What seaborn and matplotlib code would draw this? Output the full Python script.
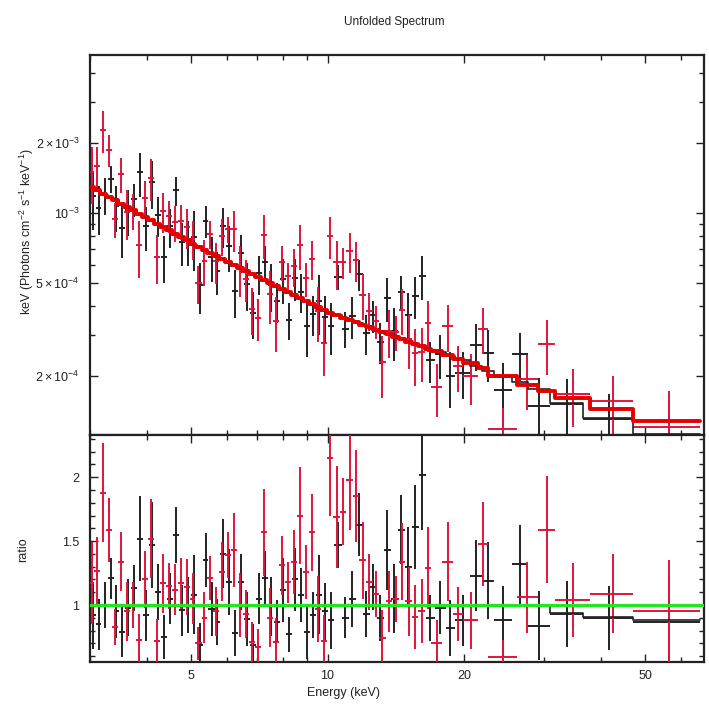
import numpy as np
import pandas as pd
import matplotlib
matplotlib.use("Agg")
import matplotlib.pyplot as plt
import matplotlib.ticker as mticker
import seaborn as sns

# ---- FPMA (black): bin edges [keV], data/model ratio, 1-sigma ratio error, unfolded model flux
edges_a = [3.00, 3.09, 3.18, 3.28, 3.38, 3.48, 3.59, 3.70, 3.81, 3.93,
           4.05, 4.17, 4.30, 4.43, 4.56, 4.70, 4.85, 5.00, 5.15, 5.31,
           5.47, 5.64, 5.81, 5.99, 6.17, 6.36, 6.55, 6.75, 6.96, 7.17,
           7.39, 7.62, 7.85, 8.09, 8.34, 8.60, 8.86, 9.13, 9.41, 9.70,
           10.00, 10.36, 10.74, 11.13, 11.53, 11.95, 12.38, 12.83, 13.29, 13.77,
           14.27, 14.79, 15.32, 15.88, 16.45, 17.20, 18.2, 19.1, 20.6, 21.9,
           23.2, 25.5, 27.6, 30.9, 36.5, 47.0, 66.0]
ratio_a = [0.92, 0.85, 1.00, 1.21, 0.95, 0.79, 0.98, 1.13, 1.52, 0.92,
           1.47, 1.10, 0.75, 1.05, 1.55, 0.96, 1.00, 1.08, 0.69, 1.35,
           0.97, 0.87, 1.40, 1.18, 0.78, 1.18, 0.89, 0.69, 1.05, 1.21,
           0.99, 0.87, 1.12, 0.77, 1.20, 1.08, 0.79, 0.92, 1.08, 0.95,
           0.88, 1.47, 0.90, 1.05, 1.63, 0.93, 1.14, 0.90, 1.43, 1.05,
           1.59, 1.30, 1.61, 2.02, 0.90,
           0.98, 0.82, 0.88, 1.23, 1.19, 0.88, 1.32, 0.84, 0.93, 0.90, 0.87]
err_a = [0.26, 0.20, 0.18, 0.16, 0.21, 0.20, 0.22, 0.18, 0.33, 0.20,
         0.34, 0.22, 0.17, 0.20, 0.22, 0.20, 0.22, 0.31, 0.17, 0.21,
         0.21, 0.18, 0.27, 0.26, 0.18, 0.22, 0.21, 0.16, 0.20, 0.21,
         0.23, 0.17, 0.25, 0.14, 0.25, 0.21, 0.21, 0.18, 0.31, 0.22,
         0.22, 0.18, 0.16, 0.22, 0.25, 0.18, 0.18, 0.18, 0.31, 0.27,
         0.27, 0.31, 0.33, 0.43, 0.18,
         0.21, 0.22, 0.20, 0.28, 0.30, 0.27, 0.31, 0.27, 0.26, 0.25, 0.35]
model_a_e3 = [1.284, 1.243, 1.202, 1.163, 1.126, 1.089, 1.054, 1.019, 0.986, 0.954,
              0.923, 0.894, 0.864, 0.836, 0.809, 0.783, 0.758, 0.733, 0.709, 0.687,
              0.667, 0.647, 0.628, 0.610, 0.592, 0.574, 0.557, 0.541, 0.525, 0.510,
              0.494, 0.480, 0.466, 0.452, 0.439, 0.426, 0.413, 0.401, 0.389, 0.378,
              0.372, 0.363, 0.354, 0.345, 0.336, 0.327, 0.319, 0.311, 0.303, 0.295,
              0.288, 0.281, 0.274, 0.267, 0.259,
              0.252, 0.243, 0.233, 0.220, 0.210, 0.198, 0.187, 0.176, 0.162, 0.145, 0.127]
# FPMA model relative to the reference model (ratio panel step line)
mline_a = [1.0] * 63 + [0.94, 0.91, 0.88]

# ---- FPMB (red)
edges_b = [3.00, 3.06, 3.15, 3.25, 3.35, 3.45, 3.56, 3.67, 3.78, 3.90,
           4.02, 4.14, 4.27, 4.40, 4.54, 4.68, 4.82, 4.97, 5.12, 5.28,
           5.44, 5.61, 5.78, 5.96, 6.14, 6.33, 6.52, 6.72, 6.93, 7.14,
           7.36, 7.59, 7.82, 8.06, 8.31, 8.57, 8.83, 9.10, 9.38, 9.67,
           9.97, 10.30, 10.65, 11.01, 11.38, 11.76, 12.16, 12.57, 12.99, 13.43,
           13.88, 14.35, 14.83, 15.33, 15.85, 16.38, 16.93, 17.9, 18.9, 19.9,
           21.4, 22.5, 26.1, 29.0, 31.7, 37.8, 47.0, 66.0]
ratio_b = [1.17, 1.27, 1.88, 1.59, 0.83, 1.34, 0.95, 1.00, 0.73, 1.20,
           1.52, 0.72, 1.17, 1.15, 1.12, 1.17, 1.14, 1.05, 0.70, 0.90,
           1.21, 0.95, 1.26, 1.39, 1.43, 1.00, 0.93, 0.71, 0.67, 1.57,
           0.90, 0.71, 1.31, 1.18, 1.34, 1.70, 1.26, 1.57, 0.97, 0.72,
           2.15, 1.69, 1.73, 1.98, 1.85, 1.35, 1.18, 1.09, 0.74, 1.03,
           1.05, 1.34, 1.03, 0.91, 0.95, 1.29,
           0.70, 1.34, 0.93, 0.88, 1.48, 0.59, 1.06, 1.59, 1.04, 1.09, 0.95]
err_b = [0.32, 0.26, 0.39, 0.25, 0.14, 0.23, 0.23, 0.18, 0.20, 0.22,
         0.31, 0.17, 0.23, 0.18, 0.20, 0.20, 0.22, 0.20, 0.13, 0.20,
         0.17, 0.19, 0.23, 0.18, 0.29, 0.25, 0.19, 0.16, 0.14, 0.34,
         0.23, 0.19, 0.23, 0.16, 0.25, 0.38, 0.21, 0.30, 0.26, 0.20,
         0.45, 0.40, 0.26, 0.39, 0.36, 0.30, 0.22, 0.18, 0.22, 0.24,
         0.18, 0.30, 0.27, 0.25, 0.25, 0.32,
         0.18, 0.31, 0.21, 0.22, 0.33, 0.14, 0.28, 0.42, 0.29, 0.31, 0.40]
model_b_e3 = [1.291, 1.256, 1.216, 1.176, 1.138, 1.101, 1.065, 1.030, 0.997, 0.965,
              0.933, 0.903, 0.873, 0.845, 0.818, 0.791, 0.766, 0.740, 0.717, 0.694,
              0.673, 0.654, 0.634, 0.616, 0.597, 0.580, 0.563, 0.546, 0.530, 0.515,
              0.500, 0.485, 0.471, 0.457, 0.443, 0.430, 0.417, 0.405, 0.393, 0.384,
              0.372, 0.364, 0.355, 0.347, 0.339, 0.331, 0.323, 0.315, 0.308, 0.301,
              0.293, 0.287, 0.280, 0.274, 0.267, 0.261,
              0.255, 0.245, 0.236, 0.226, 0.215, 0.199, 0.183, 0.172, 0.160, 0.143, 0.127]

# ---- axis ticks
x_major = [5, 10, 20, 50]
x_minor = [3, 4, 6, 7, 8, 9, 30, 40, 60]
flux_major = [2e-4, 5e-4, 1e-3, 2e-3]
flux_labels = [r"$2\times10^{-4}$", r"$5\times10^{-4}$", r"$10^{-3}$", r"$2\times10^{-3}$"]
flux_minor = [3e-4, 4e-4, 6e-4, 7e-4, 8e-4, 9e-4, 3e-3, 4e-3]
ratio_major = [1, 1.5, 2]
ratio_labels = ["1", "1.5", "2"]

BLACK = "#222222"
RED_DATA = "#e0143c"
RED_MODEL = "#e30000"
GREEN = "#22e622"
TXT = "#222222"

sns.set_theme(style="ticks")
plt.rcParams["font.family"] = ["Liberation Sans", "DejaVu Sans"]
plt.rcParams["mathtext.fontset"] = "custom"
plt.rcParams["mathtext.rm"] = "Liberation Sans"
plt.rcParams["mathtext.it"] = "Liberation Sans:italic"
plt.rcParams["mathtext.bf"] = "Liberation Sans:bold"


def bin_geometry(edges):
    e = np.asarray(edges, dtype=float)
    return (e[:-1] + e[1:]) / 2, (e[1:] - e[:-1]) / 2


def step_frame(edges, values):
    v = np.asarray(values, dtype=float)
    return pd.DataFrame({"energy": np.asarray(edges, dtype=float),
                         "value": np.append(v, v[-1])})


cen_a, hw_a = bin_geometry(edges_a)
cen_b, hw_b = bin_geometry(edges_b)
r_a, e_a = np.asarray(ratio_a), np.asarray(err_a)
r_b, e_b = np.asarray(ratio_b), np.asarray(err_b)
m_a = np.asarray(model_a_e3) * 1e-3
m_b = np.asarray(model_b_e3) * 1e-3
ml_a = np.asarray(mline_a)

fig = plt.figure(figsize=(7.09, 7.07), dpi=100)
ax1 = fig.add_axes([0.1269, 0.3847, 0.866, 0.5375])
ax2 = fig.add_axes([0.1269, 0.0637, 0.866, 0.3210], sharex=ax1)

ax1.set_xscale("log")
ax1.set_yscale("log")
ax1.set_xlim(3.0, 67.4)
ax1.set_ylim(1.11e-4, 4.8e-3)
ax2.set_ylim(0.555, 2.33)

ebar = dict(fmt="none", elinewidth=1.4, capsize=0)

# unfolded spectrum
ax1.errorbar(cen_a, r_a * m_a, xerr=hw_a, yerr=e_a * m_a, ecolor=BLACK, zorder=2, **ebar)
ax1.errorbar(cen_b, r_b * m_b, xerr=hw_b, yerr=e_b * m_b, ecolor=RED_DATA, zorder=3, **ebar)
sns.lineplot(data=step_frame(edges_a, m_a * ml_a), x="energy", y="value", ax=ax1,
             drawstyle="steps-post", color=BLACK, lw=1.2, estimator=None, sort=False, zorder=4)
sns.lineplot(data=step_frame(edges_b, m_b), x="energy", y="value", ax=ax1,
             drawstyle="steps-post", color=RED_MODEL, lw=2.8, estimator=None, sort=False, zorder=5)

# ratio panel
ax2.errorbar(cen_a, r_a, xerr=hw_a, yerr=e_a, ecolor=BLACK, zorder=2, **ebar)
ax2.errorbar(cen_b, r_b, xerr=hw_b, yerr=e_b, ecolor=RED_DATA, zorder=3, **ebar)
sns.lineplot(data=step_frame(edges_a, ml_a), x="energy", y="value", ax=ax2,
             drawstyle="steps-post", color=BLACK, lw=1.2, estimator=None, sort=False, zorder=4)
ax2.axhline(1.0, color=GREEN, lw=2.3, zorder=6)

for ax in (ax1, ax2):
    ax.set_xlabel("")
    ax.set_ylabel("")
    ax.xaxis.set_major_locator(mticker.FixedLocator(x_major))
    ax.xaxis.set_minor_locator(mticker.FixedLocator(x_minor))
    ax.xaxis.set_minor_formatter(mticker.NullFormatter())
    ax.tick_params(which="both", direction="in", top=True, right=True,
                   width=1.0, color=TXT, labelcolor=TXT, labelsize=9)
    ax.tick_params(which="major", length=6)
    ax.tick_params(which="minor", length=3.5)
    ax.tick_params(axis="y", which="major", pad=7.5)
    ax.tick_params(axis="x", which="major", pad=6)
    for s in ax.spines.values():
        s.set_linewidth(1.6)
        s.set_color(TXT)

ax1.xaxis.set_major_formatter(mticker.NullFormatter())
ax1.tick_params(labelbottom=False)
ax2.xaxis.set_major_formatter(mticker.FixedFormatter([str(v) for v in x_major]))

ax1.yaxis.set_major_locator(mticker.FixedLocator(flux_major))
ax1.yaxis.set_major_formatter(mticker.FixedFormatter(flux_labels))
ax1.yaxis.set_minor_locator(mticker.FixedLocator(flux_minor))
ax1.yaxis.set_minor_formatter(mticker.NullFormatter())

ax2.yaxis.set_major_locator(mticker.FixedLocator(ratio_major))
ax2.yaxis.set_major_formatter(mticker.FixedFormatter(ratio_labels))
ax2.yaxis.set_minor_locator(mticker.MultipleLocator(0.1))

fig.text(0.556, 0.969, "Unfolded Spectrum", ha="center", va="center", fontsize=8.5, color=TXT)
fig.text(0.038, 0.672, r"keV (Photons cm$^{-2}$ s$^{-1}$ keV$^{-1}$)", rotation=90,
         ha="center", va="center", fontsize=9, color=TXT)
fig.text(0.032, 0.222, "ratio", rotation=90, ha="center", va="center", fontsize=9, color=TXT)
fig.text(0.485, 0.020, "Energy (keV)", ha="center", va="center", fontsize=9, color=TXT)

fig.savefig("out.png", dpi=100)
